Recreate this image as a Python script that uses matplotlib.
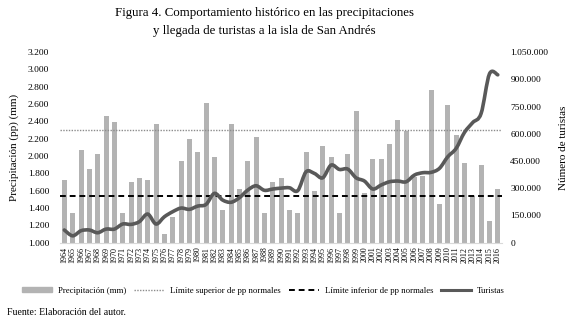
import matplotlib
matplotlib.use("Agg")
import matplotlib.pyplot as plt
import numpy as np
from matplotlib.path import Path
from matplotlib.patches import PathPatch, Patch
from matplotlib.lines import Line2D
from matplotlib.ticker import FuncFormatter

plt.rcParams["font.family"] = ["Liberation Serif", "DejaVu Serif"]

years = list(range(1964, 2017))

# precipitation (mm) per year
precip = [1722, 1344, 2068, 1845, 2022, 2465, 2392, 1344, 1695, 1741,
          1722, 2369, 1098, 1298, 1941, 2192, 2045, 2615, 1991, 1372,
          2365, 1618, 1941, 2219, 1344, 1695, 1741, 1375, 1344, 2045,
          1595, 2114, 1991, 1344, 2019, 2515, 1572, 1968, 1968, 2141,
          2415, 2288, 1760, 1770, 2765, 1445, 2588, 2242, 1918, 1537,
          1895, 1248, 1618]

# tourist arrivals
tourists = [69000, 37000, 65000, 69000, 54000, 74000, 74000, 102000, 100000, 115000,
            157000, 102000, 142000, 170000, 190000, 183000, 201000, 210000, 271000, 234000,
            222000, 247000, 289000, 313000, 288000, 295000, 300000, 302000, 286000, 390000,
            381000, 357000, 427000, 403000, 405000, 357000, 339000, 295000, 317000, 335000,
            339000, 335000, 372000, 385000, 387000, 409000, 473000, 519000, 607000, 662000,
            712000, 930000, 925000]

upper_limit = 2300
lower_limit = 1537

bar_color = "#b3b3b3"
line_color = "#595959"


def dots(v, pos):
    return f"{int(v):,}".replace(",", ".")


def smooth_path(xs, ys):
    # catmull-rom style bezier through the points (like Excel's smoothed line)
    pts = np.column_stack([xs, ys]).astype(float)
    n = len(pts)
    verts = [pts[0]]
    codes = [Path.MOVETO]
    for i in range(n - 1):
        p0 = pts[i - 1] if i > 0 else pts[i]
        p1 = pts[i]
        p2 = pts[i + 1]
        p3 = pts[i + 2] if i + 2 < n else pts[i + 1]
        c1 = p1 + (p2 - p0) / 6
        c2 = p2 - (p3 - p1) / 6
        verts += [c1, c2, p2]
        codes += [Path.CURVE4] * 3
    return Path(verts, codes)


fig = plt.figure(figsize=(5.73, 3.24), dpi=100)
ax = fig.add_axes([0.105, 0.2515, 0.771, 0.5875])
x = np.arange(len(years))

ax.bar(x, np.array(precip) - 1000, bottom=1000, width=0.6, color=bar_color)
ax.axhline(upper_limit, color="#8c8c8c", lw=1.0, ls=(0, (1, 1)))
ax.axhline(lower_limit, color="black", lw=1.4, ls=(0, (3, 2)))
ax.set_xlim(-0.5, len(years) - 0.5)
ax.set_ylim(1000, 3200)
ax.set_yticks(range(1000, 3201, 200))
ax.yaxis.set_major_formatter(FuncFormatter(dots))
ax.set_xticks(x)
ax.set_xticklabels([str(y) for y in years], rotation=90, fontsize=5.8)
ax.tick_params(axis="y", labelsize=6.8, length=0, pad=8)
ax.tick_params(axis="x", length=0, pad=3)
ax.set_ylabel("Precipitación (pp) (mm)", fontsize=8, labelpad=6)
for s in ["top", "left", "right"]:
    ax.spines[s].set_visible(False)
ax.spines["bottom"].set_color("#d9d9d9")

ax2 = ax.twinx()
ax2.set_ylim(0, 1050000)
ax2.set_yticks(range(0, 1050001, 150000))
ax2.yaxis.set_major_formatter(FuncFormatter(dots))
ax2.tick_params(axis="y", labelsize=6.8, length=0, pad=6)
ax2.add_patch(PathPatch(smooth_path(x, tourists), fill=False,
                        edgecolor=line_color, lw=2.6, capstyle="round",
                        joinstyle="round"))
ax2.set_ylabel("Número de turistas", fontsize=8, labelpad=8)
for s in ["top", "left", "right", "bottom"]:
    ax2.spines[s].set_visible(False)

fig.text(0.461, 0.96, "Figura 4. Comportamiento histórico en las precipitaciones",
         ha="center", va="center", fontsize=9.3)
fig.text(0.461, 0.905, "y llegada de turistas a la isla de San Andrés",
         ha="center", va="center", fontsize=9.3)

handles = [Patch(color=bar_color),
           Line2D([], [], color="#8c8c8c", lw=1.0, ls=(0, (1, 1))),
           Line2D([], [], color="black", lw=1.4, ls=(0, (3, 2))),
           Line2D([], [], color=line_color, lw=2.2)]
labels = ["Precipitación (mm)", "Límite superior de pp normales",
          "Límite inferior de pp normales", "Turistas"]
fig.legend(handles, labels, loc="center", bbox_to_anchor=(0.46, 0.103),
           ncol=4, frameon=False, fontsize=6.3, handlelength=3.4,
           handleheight=0.6, columnspacing=0.9, handletextpad=0.7)

fig.text(0.012, 0.037, "Fuente: Elaboración del autor.", ha="left", va="center",
         fontsize=7)

fig.savefig("out.png", dpi=100)
